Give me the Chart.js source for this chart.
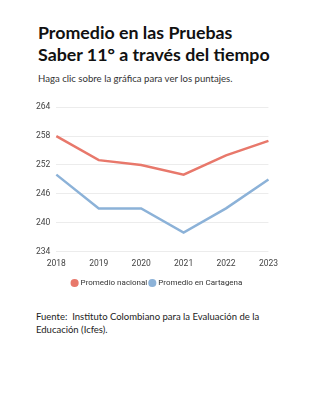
<!DOCTYPE html>
<html lang="es">
<head>
<meta charset="utf-8">
<title>Promedio Saber 11</title>
<script src="https://cdn.jsdelivr.net/npm/chart.js@4"></script>
<style>
  body { margin: 0; background: #fff; font-family: "Lato", sans-serif; color: #111; }
  .page { position: relative; width: 328px; height: 400px; }
  h1 { position: absolute; left: 38px; top: 21px; margin: 0; font-size: 17.8px; line-height: 22px; font-weight: 700; white-space: nowrap; }
  .sub { position: absolute; left: 38px; top: 73px; margin: 0; font-size: 9.6px; line-height: 12px; color: #333; white-space: nowrap; }
  .chart-box { position: absolute; left: 30px; top: 96px; width: 255px; height: 201px; }
  .source { position: absolute; left: 36px; top: 309.5px; margin: 0; font-size: 9.5px; line-height: 13.5px; color: #222; white-space: nowrap; }
</style>
</head>
<body>
<div class="page">
  <h1>Promedio en las Pruebas<br>Saber 11° a través del tiempo</h1>
  <p class="sub">Haga clic sobre la gráfica para ver los puntajes.</p>
  <div class="chart-box"><canvas id="line-chart-saber"></canvas></div>
  <p class="source">Fuente:&nbsp; Instituto Colombiano para la Evaluación de la<br>Educación (Icfes).</p>
</div>
<script>
// Años y puntajes
const years = ["2018", "2019", "2020", "2021", "2022", "2023"];
const nacional = [258, 253, 252, 250, 254, 257];
const cartagena = [250, 243, 243, 238, 243, 249];
const yTicks = [234, 240, 246, 252, 258, 264];

const config = {
  type: "line",
  data: {
    labels: years,
    datasets: [
      {
        label: "Promedio nacional",
        data: nacional,
        borderColor: "#e8786b",
        backgroundColor: "#e8786b",
        borderWidth: 2.5,
        pointRadius: 0,
        fill: false,
        tension: 0
      },
      {
        label: "Promedio en Cartagena",
        data: cartagena,
        borderColor: "#8cb2d8",
        backgroundColor: "#8cb2d8",
        borderWidth: 2.5,
        pointRadius: 0,
        fill: false,
        tension: 0
      }
    ]
  },
  options: {
    animation: false,
    maintainAspectRatio: false,
    responsive: true,
    layout: { padding: { top: 4, right: 0 } },
    plugins: {
      legend: {
        position: "bottom",
        labels: {
          usePointStyle: true,
          pointStyle: "circle",
          boxWidth: 4,
          boxHeight: 4,
          padding: 3,
          color: "#333",
          font: { family: "Roboto", size: 8 }
        }
      },
      tooltip: { mode: "index", intersect: false }
    },
    scales: {
      x: {
        grid: { display: false, drawTicks: false },
        border: { display: false },
        ticks: { color: "#444", padding: 7, font: { family: "Roboto", size: 8.5 } }
      },
      y: {
        min: yTicks[0],
        max: yTicks[yTicks.length - 1],
        afterBuildTicks: (axis) => { axis.ticks = yTicks.map(v => ({ value: v })); },
        grid: { color: "#ececec", drawTicks: false },
        border: { display: false },
        ticks: { color: "#444", padding: 6, font: { family: "Roboto", size: 8.5 } }
      }
    }
  }
};

new Chart(document.getElementById("line-chart-saber").getContext("2d"), config);
</script>
</body>
</html>
